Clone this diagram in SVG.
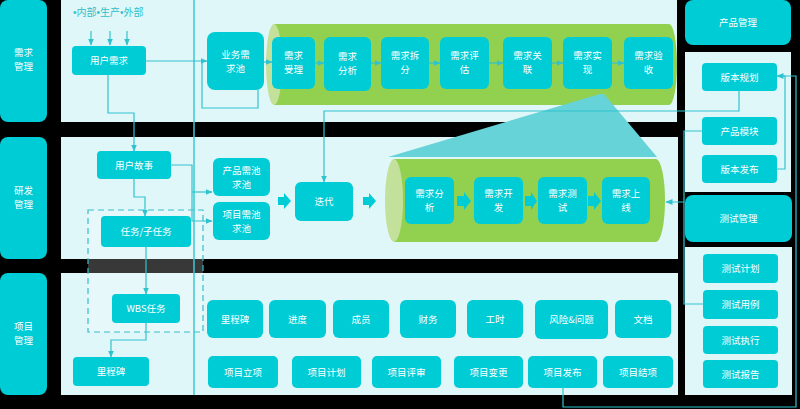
<svg xmlns="http://www.w3.org/2000/svg" width="800" height="409" viewBox="0 0 800 409">
<defs>
<style>
.bg{fill:#000}
.panel{fill:#E0F7F9}
.box{fill:#00CCD6}
.t{font-family:"Noto Sans CJK SC","Noto Sans",sans-serif;font-size:9.5px;fill:#fff;text-anchor:middle}
.ln{stroke:#2FC3CE;stroke-width:1.2;fill:none}
.body{fill:#92D050}
.cap{fill:#C4E19C}
.barr{fill:#00CCD6}
</style>
<marker id="ah" markerWidth="7" markerHeight="6" refX="6.5" refY="3" orient="auto" markerUnits="userSpaceOnUse"><path d="M0,0 L7,3 L0,6z" fill="#2FC3CE"/></marker>
</defs>
<rect class="bg" x="0" y="0" width="800" height="409"/>

<!-- panels -->
<g id="panels">
<rect class="panel" x="61" y="0" width="616" height="122"/>
<rect class="panel" x="61" y="137" width="617" height="122"/>
<rect class="panel" x="61" y="273" width="617" height="122"/>
<rect class="panel" x="685" y="52" width="106" height="140"/>
<rect class="panel" x="685" y="247" width="107" height="148"/>
</g>

<!-- lane labels -->
<g id="lane-req"><rect class="box" x="0" y="0" width="47" height="122" rx="8"/><text class="t" x="23.5" y="56.1">需求<tspan x="23.5" dy="14">管理</tspan></text></g>
<g id="lane-dev"><rect class="box" x="0" y="137" width="47" height="122" rx="8"/><text class="t" x="23.5" y="194.1">研发<tspan x="23.5" dy="14">管理</tspan></text></g>
<g id="lane-proj"><rect class="box" x="0" y="273" width="47" height="122" rx="8"/><text class="t" x="23.5" y="330.1">项目<tspan x="23.5" dy="14">管理</tspan></text></g>
<g id="hdr-product"><rect class="box" x="685" y="0" width="106" height="45" rx="8"/><text class="t" x="738" y="26">产品管理</text></g>
<g id="hdr-test"><rect class="box" x="685" y="195" width="107" height="47" rx="8"/><text class="t" x="738.5" y="222">测试管理</text></g>

<!-- cylinders -->
<g id="cyl-top">
<rect class="body" x="274" y="24" width="395" height="81"/>
<ellipse class="body" cx="669" cy="64.5" rx="8" ry="40.5"/>
<ellipse class="cap" cx="274" cy="64.5" rx="8" ry="40.5"/>
</g>
<g id="cyl-mid">
<rect class="body" x="394" y="159" width="262" height="83"/>
<ellipse class="body" cx="656" cy="200.5" rx="9" ry="41.5"/>
<ellipse class="cap" cx="394" cy="200.5" rx="9" ry="41.5"/>
</g>
<polygon id="zoom-fan" points="600,94 604,94 657,157 388,157" fill="#66D3D8"/>

<text x="73" y="16" font-family="'Liberation Sans','Noto Sans CJK SC',sans-serif" font-size="10" fill="#2FBFCB">•内部•生产•外部</text>

<!-- requirement lane nodes -->
<g id="n-userreq"><rect class="box" x="72" y="46" width="74" height="29" rx="4"/><text class="t" x="109" y="64.1">用户需求</text></g>
<g id="n-bizpool"><rect class="box" x="207" y="32" width="57" height="58" rx="8"/><text class="t" x="235.5" y="57.6">业务需<tspan x="235.5" dy="14">求池</tspan></text></g>
<g id="n-r1"><rect class="box" x="272" y="37" width="43" height="52" rx="6"/><text class="t" x="293.5" y="59.1">需求<tspan x="293.5" dy="14">受理</tspan></text></g>
<g id="n-r2"><rect class="box" x="324" y="37" width="47" height="54" rx="6"/><text class="t" x="347.5" y="60">需求<tspan x="347.5" dy="14">分析</tspan></text></g>
<g id="n-r3"><rect class="box" x="381" y="37" width="48" height="52" rx="6"/><text class="t" x="405" y="59.1">需求拆<tspan x="405" dy="14">分</tspan></text></g>
<g id="n-r4"><rect class="box" x="440" y="37" width="49" height="52" rx="6"/><text class="t" x="464.5" y="59.1">需求评<tspan x="464.5" dy="14">估</tspan></text></g>
<g id="n-r5"><rect class="box" x="503" y="37" width="49" height="52" rx="6"/><text class="t" x="527.5" y="59.1">需求关<tspan x="527.5" dy="14">联</tspan></text></g>
<g id="n-r6"><rect class="box" x="563" y="37" width="49" height="52" rx="6"/><text class="t" x="587.5" y="59.1">需求实<tspan x="587.5" dy="14">现</tspan></text></g>
<g id="n-r7"><rect class="box" x="624" y="37" width="49" height="52" rx="6"/><text class="t" x="648.5" y="59.1">需求验<tspan x="648.5" dy="14">收</tspan></text></g>

<!-- product panel -->
<g id="n-verplan"><rect class="box" x="702" y="63" width="75" height="28" rx="4"/><text class="t" x="739.5" y="80.5">版本规划</text></g>
<g id="n-prodmod"><rect class="box" x="702" y="117" width="75" height="28" rx="4"/><text class="t" x="739.5" y="134.5">产品模块</text></g>
<g id="n-verrel"><rect class="box" x="702" y="155" width="75" height="28" rx="4"/><text class="t" x="739.5" y="172.5">版本发布</text></g>

<!-- test panel -->
<g id="n-tplan"><rect class="box" x="703" y="254" width="75" height="29" rx="4"/><text class="t" x="740.5" y="272">测试计划</text></g>
<g id="n-tcase"><rect class="box" x="703" y="290" width="75" height="29" rx="4"/><text class="t" x="740.5" y="308">测试用例</text></g>
<g id="n-texec"><rect class="box" x="703" y="326" width="75" height="28" rx="4"/><text class="t" x="740.5" y="343.5">测试执行</text></g>
<g id="n-trep"><rect class="box" x="703" y="360" width="75" height="28" rx="4"/><text class="t" x="740.5" y="377.5">测试报告</text></g>

<!-- dev lane -->
<rect id="dash-group" x="88" y="210" width="115" height="122" fill="#fff" fill-opacity="0.22" stroke="#36BFCB" stroke-width="1.2" stroke-dasharray="6,4"/>
<g id="n-story"><rect class="box" x="97" y="151" width="74" height="28" rx="4"/><text class="t" x="134" y="168.5">用户故事</text></g>
<g id="n-ppool"><rect class="box" x="213" y="158" width="57" height="38" rx="6"/><text class="t" x="241.5" y="174.1">产品需池<tspan x="241.5" dy="14">求池</tspan></text></g>
<g id="n-jpool"><rect class="box" x="213" y="202" width="57" height="38" rx="6"/><text class="t" x="241.5" y="217.6">项目需池<tspan x="241.5" dy="14">求池</tspan></text></g>
<g id="n-iter"><rect class="box" x="295" y="182" width="58" height="39" rx="6"/><text class="t" x="324" y="205">迭代</text></g>
<g id="n-task"><rect class="box" x="101" y="216" width="90" height="31" rx="4"/><text class="t" x="146" y="235">任务/子任务</text></g>
<g id="n-d1"><rect class="box" x="405" y="177" width="49" height="47" rx="6"/><text class="t" x="429.5" y="197.1">需求分<tspan x="429.5" dy="14">析</tspan></text></g>
<g id="n-d2"><rect class="box" x="474" y="177" width="49" height="47" rx="6"/><text class="t" x="498.5" y="197.1">需求开<tspan x="498.5" dy="14">发</tspan></text></g>
<g id="n-d3"><rect class="box" x="538" y="177" width="49" height="47" rx="6"/><text class="t" x="562.5" y="197.1">需求测<tspan x="562.5" dy="14">试</tspan></text></g>
<g id="n-d4"><rect class="box" x="602" y="177" width="48" height="47" rx="6"/><text class="t" x="626" y="197.1">需求上<tspan x="626" dy="14">线</tspan></text></g>

<!-- project lane -->
<g id="n-wbs"><rect class="box" x="112" y="294" width="68" height="29" rx="4"/><text class="t" x="146" y="312">WBS任务</text></g>
<g id="n-ms1"><rect class="box" x="73" y="357" width="76" height="29" rx="4"/><text class="t" x="111" y="375">里程碑</text></g>
<g id="n-ms2"><rect class="box" x="207" y="300" width="56" height="38" rx="6"/><text class="t" x="235" y="322.5">里程碑</text></g>
<g id="n-prog"><rect class="box" x="269" y="300" width="57" height="38" rx="6"/><text class="t" x="297.5" y="322.5">进度</text></g>
<g id="n-memb"><rect class="box" x="333" y="300" width="56" height="38" rx="6"/><text class="t" x="361" y="322.5">成员</text></g>
<g id="n-fin"><rect class="box" x="400" y="300" width="56" height="38" rx="6"/><text class="t" x="428" y="322.5">财务</text></g>
<g id="n-hours"><rect class="box" x="467" y="300" width="56" height="38" rx="6"/><text class="t" x="495" y="322.5">工时</text></g>
<g id="n-risk"><rect class="box" x="535" y="300" width="73" height="39" rx="6"/><text class="t" x="571.5" y="323">风险&amp;问题</text></g>
<g id="n-doc"><rect class="box" x="615" y="300" width="56" height="38" rx="6"/><text class="t" x="643" y="322.5">文档</text></g>
<g id="n-p1"><rect class="box" x="208" y="356" width="70" height="32" rx="5"/><text class="t" x="243" y="375.5">项目立项</text></g>
<g id="n-p2"><rect class="box" x="292" y="356" width="69" height="32" rx="5"/><text class="t" x="326.5" y="375.5">项目计划</text></g>
<g id="n-p3"><rect class="box" x="372" y="356" width="69" height="32" rx="5"/><text class="t" x="406.5" y="375.5">项目评审</text></g>
<g id="n-p4"><rect class="box" x="454" y="356" width="69" height="32" rx="5"/><text class="t" x="488.5" y="375.5">项目变更</text></g>
<g id="n-p5"><rect class="box" x="528" y="356" width="69" height="32" rx="5"/><text class="t" x="562.5" y="375.5">项目发布</text></g>
<g id="n-p6"><rect class="box" x="603" y="356" width="70" height="32" rx="5"/><text class="t" x="638" y="375.5">项目结项</text></g>

<!-- connectors -->
<g id="connectors">
<line x1="194" y1="0" x2="194" y2="395" stroke="#3CC9D3" stroke-width="1.5"/>
<path class="ln" d="M91,31 V45" marker-end="url(#ah)"/>
<path class="ln" d="M110,31 V45" marker-end="url(#ah)"/>
<path class="ln" d="M127,31 V45" marker-end="url(#ah)"/>
<path class="ln" d="M146,61 H207" marker-end="url(#ah)"/>
<path class="ln" d="M258,90 V108 H202 V61"/>
<path class="ln" d="M108,75 V113 H134 V151" marker-end="url(#ah)"/>
<path class="ln" d="M264,62 H272" marker-end="url(#ah)"/>
<path class="ln" d="M315,63 H324" marker-end="url(#ah)"/>
<path class="ln" d="M371,63 H381" marker-end="url(#ah)"/>
<path class="ln" d="M429,63 H440" marker-end="url(#ah)"/>
<path class="ln" d="M489,63 H503" marker-end="url(#ah)"/>
<path class="ln" d="M552,63 H563" marker-end="url(#ah)"/>
<path class="ln" d="M612,63 H624" marker-end="url(#ah)"/>
<path class="ln" d="M739,91 V111 H324 V182" marker-end="url(#ah)"/>
<path class="ln" d="M777,169 H785 V76 H777" marker-end="url(#ah)"/>
<path class="ln" d="M563,388 V407 H796 V76 H778"/>
<path class="ln" d="M702,131 H684 V202 H666" marker-end="url(#ah)"/>
<path class="ln" d="M703,304 H684 V202"/>
<path class="ln" d="M171,165 H192 V221 H212" marker-end="url(#ah)"/>
<path class="ln" d="M192,192 H212" marker-end="url(#ah)"/>
<path class="ln" d="M134,179 V197 H145 V216" marker-end="url(#ah)"/>
<path class="ln" d="M146,247 V294" marker-end="url(#ah)"/>
<path class="ln" d="M146,323 V340 H111 V357" marker-end="url(#ah)"/>
<polygon class="barr" points="278,197 284,197 284,193 291,201 284,209 284,205 278,205"/>
<polygon class="barr" points="363,197 369,197 369,193 376,201 369,209 369,205 363,205"/>
<polygon class="barr" points="457,196 464,196 464,192 471,201 464,210 464,206 457,206"/>
<polygon class="barr" points="525,196 531,196 531,192 537,201 531,210 531,206 525,206"/>
<polygon class="barr" points="588,196 594,196 594,192 601,201 594,210 594,206 588,206"/>
</g>
</svg>
